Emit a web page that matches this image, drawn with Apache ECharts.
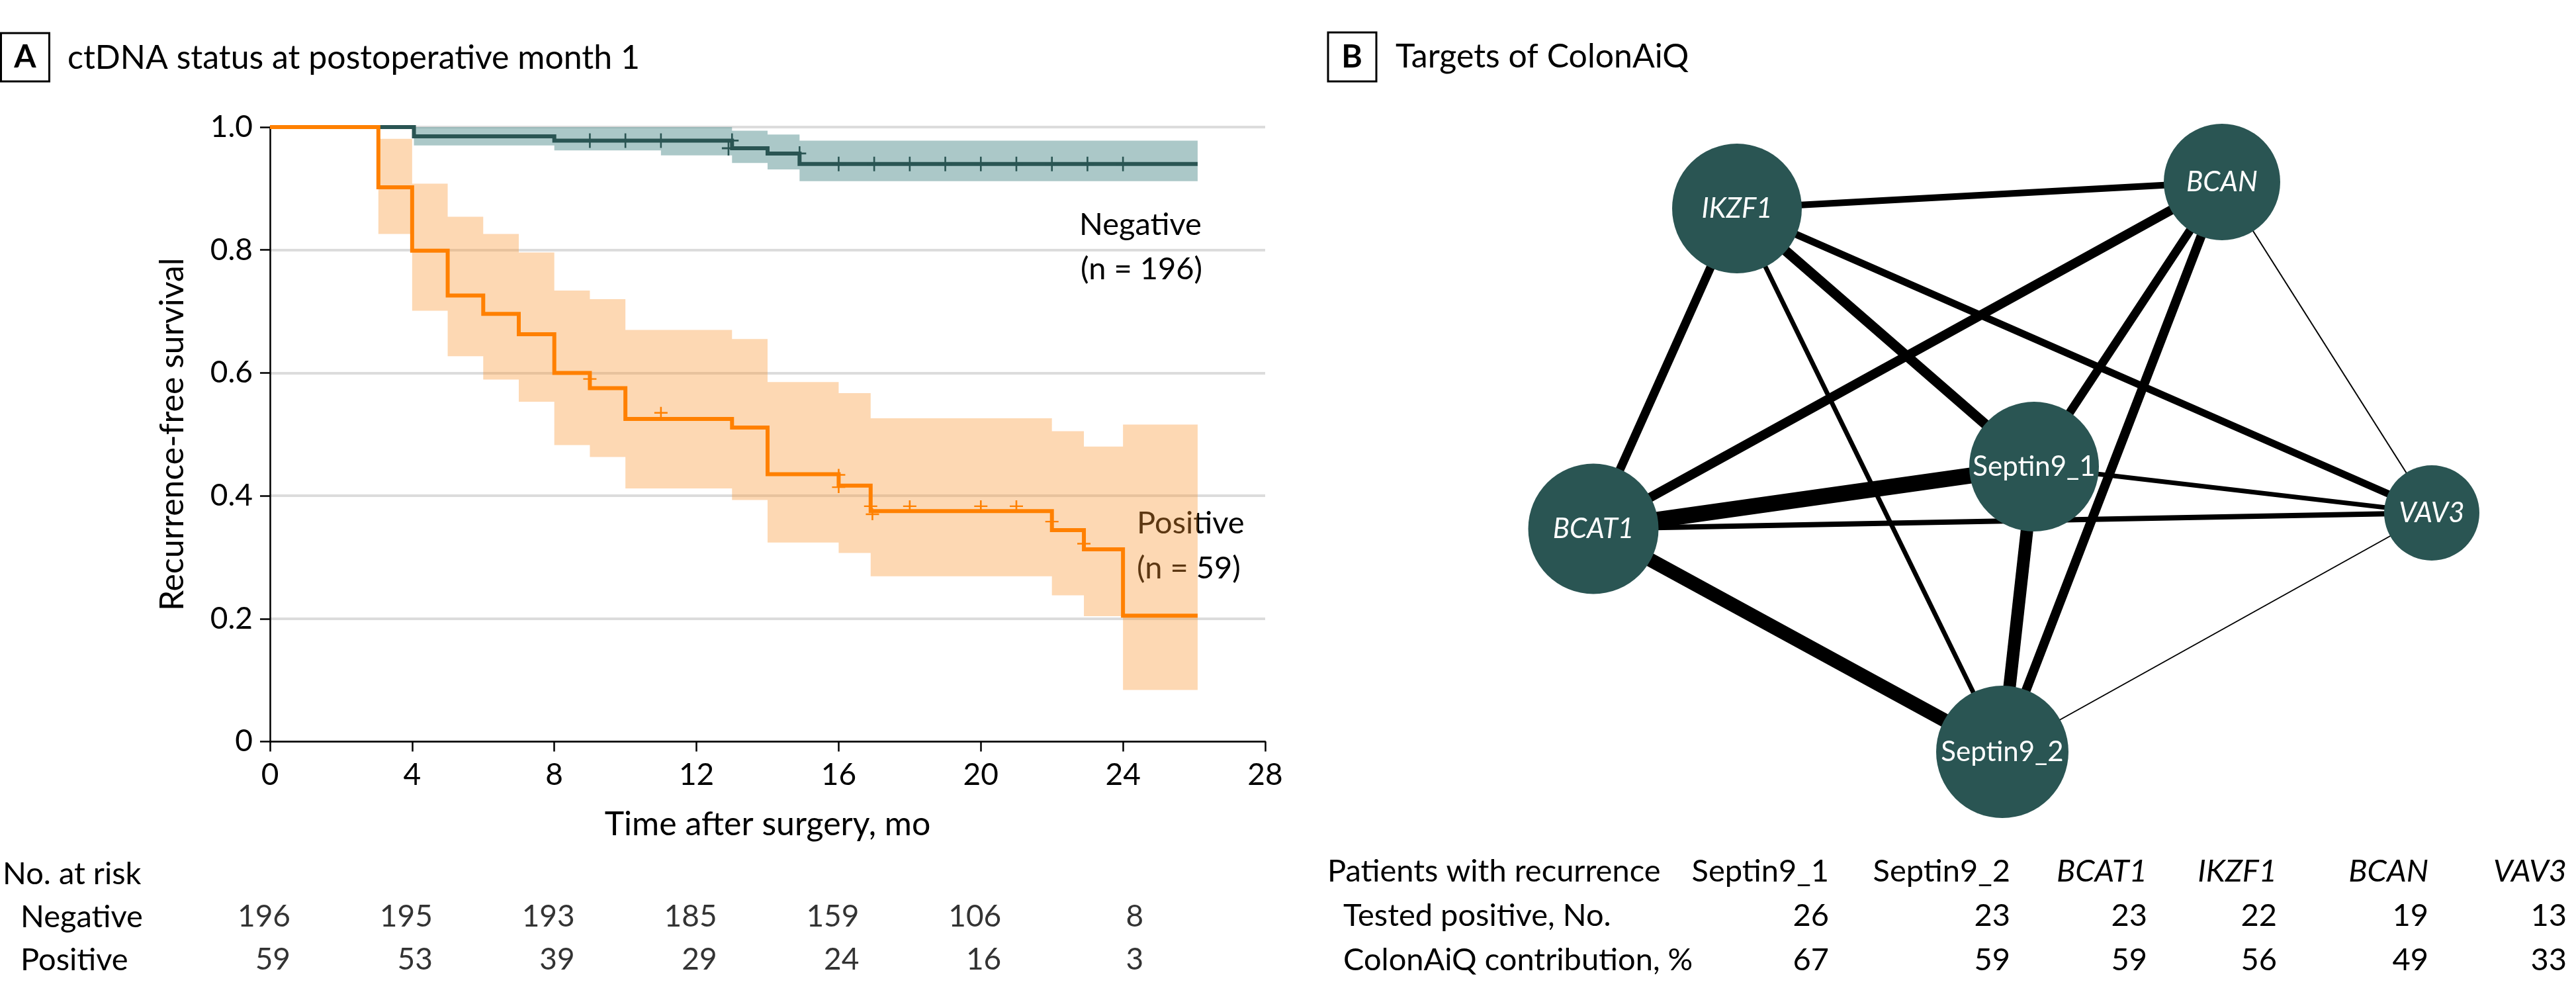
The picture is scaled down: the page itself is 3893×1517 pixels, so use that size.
<!DOCTYPE html>
<html><head><meta charset="utf-8">
<script src="https://cdn.jsdelivr.net/npm/echarts@6/dist/echarts.min.js"></script>
<style>html,body{margin:0;padding:0;background:#fff;}#c{width:3893px;height:1517px;}</style>
</head><body><div id="c"></div>
<script>
// ================= DATA =================
// Panel A: Kaplan-Meier recurrence-free survival
const xTicks = [0, 4, 8, 12, 16, 20, 24, 28];
const yTicks = [0, 0.2, 0.4, 0.6, 0.8, 1.0];

const negTimes = [0, 4.05, 8, 13, 14, 14.9, 26.1];
const negSurv  = [1, 0.985, 0.978, 0.9655, 0.957, 0.940, 0.940];
const negBandTimes = [4.05, 8, 11, 13, 14, 14.9, 26.1];
const negBandLower = [0.970, 0.962, 0.954, 0.9415, 0.931, 0.912, 0.912];
const negBandUpper = [1.0, 1.0, 1.0, 0.994, 0.988, 0.978, 0.978];
const negCensorTimes = [9, 10, 11, 12.9, 13, 14.9, 16, 17, 18, 19, 20, 21, 22, 23, 24];
const negCensorSurv  = [0.978, 0.978, 0.978, 0.9655, 0.978, 0.957, 0.94, 0.94, 0.94, 0.94, 0.94, 0.94, 0.94, 0.94, 0.94];

const posTimes = [0, 3.05, 4, 5, 6, 7, 8, 9, 10, 13, 14, 16, 16.9, 22, 22.9, 24, 26.1];
const posSurv  = [1, 0.902, 0.799, 0.726, 0.696, 0.663, 0.600, 0.575, 0.525, 0.511, 0.435, 0.4165, 0.375, 0.344, 0.313, 0.205, 0.205];
const posBandTimes = [3.05, 4, 5, 6, 7, 8, 9, 10, 13, 14, 16, 16.9, 22, 22.9, 24, 26.1];
const posBandLower = [0.826, 0.701, 0.627, 0.589, 0.553, 0.4825, 0.463, 0.412, 0.393, 0.324, 0.307, 0.269, 0.238, 0.204, 0.084, 0.084];
const posBandUpper = [0.981, 0.908, 0.854, 0.826, 0.796, 0.734, 0.720, 0.670, 0.655, 0.585, 0.567, 0.526, 0.505, 0.480, 0.516, 0.516];
const posCensorTimes = [9, 11, 16, 16, 16.9, 16.95, 18, 20, 21, 22, 22.9];
const posCensorSurv  = [0.590, 0.535, 0.434, 0.414, 0.383, 0.370, 0.383, 0.383, 0.383, 0.358, 0.322];

const riskTimes = [0, 4, 8, 12, 16, 20, 24];
const riskNegative = [196, 195, 193, 185, 159, 106, 8];
const riskPositive = [59, 53, 39, 29, 24, 16, 3];
const groupNames = ['Negative', 'Positive'];
const groupN = [196, 59];

// Panel B: ColonAiQ targets network
const markers = ['Septin9_1', 'Septin9_2', 'BCAT1', 'IKZF1', 'BCAN', 'VAV3'];
const testedPositive = [26, 23, 23, 22, 19, 13];
const contribution = [67, 59, 59, 56, 49, 33];
const linkSource = ['BCAT1', 'BCAT1', 'Septin9_1', 'BCAN', 'BCAN', 'BCAN', 'IKZF1', 'IKZF1', 'IKZF1', 'IKZF1', 'BCAT1', 'Septin9_1', 'IKZF1', 'BCAN', 'Septin9_2'];
const linkTarget = ['Septin9_1', 'Septin9_2', 'Septin9_2', 'BCAT1', 'Septin9_1', 'Septin9_2', 'Septin9_1', 'BCAT1', 'BCAN', 'VAV3', 'VAV3', 'VAV3', 'Septin9_2', 'VAV3', 'VAV3'];
const linkStrength = [24, 21, 19, 14, 13, 14, 15, 13, 10, 11, 8, 7, 7, 2, 2];

// ================= LAYOUT / STYLE =================
const FONT = 'Lato';
const TEAL = '#2a5553';
const ORANGE = '#ff8000';
const TEAL_BAND = 'rgba(88,146,146,0.5)';
const ORANGE_BAND = 'rgba(250,150,50,0.37)';
const BASE_K = 0.34; // baseline -> middle offset factor
const nodeXY = {IKZF1: [2625, 315], BCAN: [3358, 275], Septin9_1: [3074, 705], BCAT1: [2408, 799], VAV3: [3675, 775], Septin9_2: [3026, 1136]};
const nodeDiam = {Septin9_1: 196, Septin9_2: 200, BCAT1: 197, IKZF1: 196, BCAN: 176, VAV3: 144};
const tableRight = [2764, 3038, 3245, 3441, 3670, 3879];
const isGene = m => !/^Septin9/.test(m);

function txt(x, baseline, s, size, opt) {
  opt = opt || {};
  const align = opt.align || 'left';
  const font = (opt.italic ? 'italic ' : '') + (opt.bold ? 'bold ' : '') + size + 'px ' + FONT;
  return {type: 'text', x: x, y: baseline - BASE_K * size, silent: true,
    style: {text: String(s), font: font, fill: '#000', align: align, textAlign: align, verticalAlign: 'middle', textVerticalAlign: 'middle'}};
}
const zip = (a, b) => a.map((v, i) => [v, b[i]]);

// stepped confidence band drawn as one polygon through the axis scales
function bandSeries(times, lo, hi, color) {
  return {type: 'custom', xAxisIndex: 0, yAxisIndex: 0, silent: true, z: 1, clip: true,
    data: times.map((t, i) => [t, lo[i], hi[i]]),
    encode: {x: 0, y: [1, 2]},
    renderItem: (params, api) => {
      if (params.dataIndex !== 0) return null;
      const pts = [];
      for (let i = 0; i < times.length - 1; i++) {
        pts.push(api.coord([times[i], hi[i]]));
        pts.push(api.coord([times[i + 1], hi[i]]));
      }
      for (let i = times.length - 2; i >= 0; i--) {
        pts.push(api.coord([times[i + 1], lo[i]]));
        pts.push(api.coord([times[i], lo[i]]));
      }
      return {type: 'polygon', shape: {points: pts}, style: {fill: color}};
    }};
}

const graphics = [];
graphics.push({type: 'rect', shape: {x: 1.5, y: 50, width: 73, height: 73}, style: {fill: 'transparent', stroke: '#000', lineWidth: 3}, silent: true});
graphics.push(txt(38, 103, 'A', 48, {align: 'center', bold: true}));
graphics.push(txt(102, 105, 'ctDNA status at postoperative month 1', 50));
graphics.push({type: 'rect', shape: {x: 2007, y: 49, width: 73, height: 74}, style: {fill: 'transparent', stroke: '#000', lineWidth: 3}, silent: true});
graphics.push(txt(2043, 103, 'B', 48, {align: 'center', bold: true}));
graphics.push(txt(2109, 103, 'Targets of ColonAiQ', 50));
graphics.push(txt(1631, 356, groupNames[0], 47));
graphics.push(txt(1633, 423, '(n = ' + groupN[0] + ')', 47));
graphics.push(txt(1718, 807, groupNames[1], 47));
graphics.push(txt(1718, 875, '(n = ' + groupN[1] + ')', 47));
graphics.push(txt(4, 1337, 'No. at risk', 47));
graphics.push(txt(2006, 1333, 'Patients with recurrence', 47));
graphics.push(txt(2030, 1400, 'Tested positive, No.', 47));
graphics.push(txt(2030, 1467, 'ColonAiQ contribution, %', 47));
markers.forEach((m, i) => {
  graphics.push(txt(tableRight[i], 1333, m, 47, {align: 'right', italic: isGene(m)}));
  graphics.push(txt(tableRight[i], 1400, testedPositive[i], 47, {align: 'right'}));
  graphics.push(txt(tableRight[i], 1467, contribution[i], 47, {align: 'right'}));
});

const plusPath = 'path://M-1.3,-10 L1.3,-10 L1.3,-1.3 L10,-1.3 L10,1.3 L1.3,1.3 L1.3,10 L-1.3,10 L-1.3,1.3 L-10,1.3 L-10,-1.3 L-1.3,-1.3 Z';

const chart = echarts.init(document.getElementById('c'), null, {renderer: 'canvas', width: 3893, height: 1517});
const option = {
  animation: false,
  backgroundColor: '#fff',
  textStyle: {fontFamily: FONT, color: '#000'},
  grid: [
    {left: 408, top: 192, width: 1504, height: 928.5, outerBoundsMode: 'none', containLabel: false},
    {left: 408, top: 1353, width: 1504, height: 130, outerBoundsMode: 'none', containLabel: false},
    {left: 0, top: 0, width: 3893, height: 1517, outerBoundsMode: 'none', containLabel: false}
  ],
  xAxis: [
    {gridIndex: 0, type: 'value', min: xTicks[0], max: xTicks[xTicks.length - 1], interval: 4,
      axisLine: {show: true, onZero: false, lineStyle: {color: '#000', width: 2.5}},
      axisTick: {show: true, length: 15, lineStyle: {color: '#000', width: 2.5}},
      axisLabel: {fontSize: 46, color: '#000', margin: 28, fontFamily: FONT},
      splitLine: {show: false},
      name: 'Time after surgery, mo', nameLocation: 'middle', nameGap: 100,
      nameTextStyle: {fontSize: 50, color: '#000', fontFamily: FONT}},
    {gridIndex: 1, type: 'value', min: 0, max: 28, show: false},
    {gridIndex: 2, type: 'value', min: 0, max: 3893, show: false}
  ],
  yAxis: [
    {gridIndex: 0, type: 'value', min: yTicks[0], max: yTicks[yTicks.length - 1], interval: 0.2,
      axisLine: {show: true, lineStyle: {color: '#000', width: 2.5}},
      axisTick: {show: true, length: 15, lineStyle: {color: '#000', width: 2.5}},
      axisLabel: {fontSize: 46, color: '#000', margin: 26, fontFamily: FONT,
        formatter: v => (v === 0 ? '0' : v.toFixed(1))},
      splitLine: {show: true, lineStyle: {color: '#dcdcdc', width: 4}},
      name: 'Recurrence-free survival', nameLocation: 'middle', nameGap: 122,
      nameTextStyle: {fontSize: 50, color: '#000', fontFamily: FONT}},
    {gridIndex: 1, type: 'category', data: groupNames, inverse: true,
      axisLine: {show: false}, axisTick: {show: false}, splitLine: {show: false},
      axisLabel: {align: 'left', margin: 377, fontSize: 47, color: '#000', fontFamily: FONT}},
    {gridIndex: 2, type: 'value', min: 0, max: 1517, inverse: true, show: false}
  ],
  series: [
    bandSeries(negBandTimes, negBandLower, negBandUpper, TEAL_BAND),
    bandSeries(posBandTimes, posBandLower, posBandUpper, ORANGE_BAND),
    {type: 'line', name: 'Negative', xAxisIndex: 0, yAxisIndex: 0, step: 'end', symbol: 'none', silent: true,
      lineStyle: {color: TEAL, width: 6, join: 'miter', cap: 'butt'}, data: zip(negTimes, negSurv), z: 3},
    {type: 'line', name: 'Positive', xAxisIndex: 0, yAxisIndex: 0, step: 'end', symbol: 'none', silent: true,
      lineStyle: {color: ORANGE, width: 6, join: 'miter', cap: 'butt'}, data: zip(posTimes, posSurv), z: 4},
    {type: 'scatter', xAxisIndex: 0, yAxisIndex: 0, symbol: plusPath, symbolSize: [20, 22], silent: true,
      itemStyle: {color: TEAL, opacity: 1}, data: zip(negCensorTimes, negCensorSurv), z: 5},
    {type: 'scatter', xAxisIndex: 0, yAxisIndex: 0, symbol: plusPath, symbolSize: [20, 18], silent: true,
      itemStyle: {color: ORANGE, opacity: 1}, data: zip(posCensorTimes, posCensorSurv), z: 5},
    {type: 'scatter', xAxisIndex: 1, yAxisIndex: 1, symbolSize: 0, silent: true,
      data: riskTimes.map((t, i) => [t, groupNames[0], riskNegative[i]]),
      label: {show: true, position: 'inside', align: 'right', verticalAlign: 'middle', offset: [31, 0],
        formatter: p => String(p.value[2]), fontSize: 46, color: '#000', fontFamily: FONT}},
    {type: 'scatter', xAxisIndex: 1, yAxisIndex: 1, symbolSize: 0, silent: true,
      data: riskTimes.map((t, i) => [t, groupNames[1], riskPositive[i]]),
      label: {show: true, position: 'inside', align: 'right', verticalAlign: 'middle', offset: [31, 0],
        formatter: p => String(p.value[2]), fontSize: 46, color: '#000', fontFamily: FONT}},
    {type: 'graph', coordinateSystem: 'cartesian2d', xAxisIndex: 2, yAxisIndex: 2, layout: 'none', silent: true,
      itemStyle: {color: TEAL, opacity: 1},
      label: {show: true, position: 'inside', color: '#fff', fontSize: 42, fontFamily: FONT},
      lineStyle: {color: '#000', opacity: 1, curveness: 0},
      emphasis: {disabled: true},
      data: markers.map((m, i) => ({name: m, value: nodeXY[m].concat([testedPositive[i]]), symbolSize: nodeDiam[m],
        label: {fontStyle: isGene(m) ? 'italic' : 'normal'}})),
      links: linkSource.map((s, i) => ({source: s, target: linkTarget[i], lineStyle: {width: linkStrength[i]}})),
      z: 2}
  ],
  graphic: graphics
};
chart.setOption(option);
</script></body></html>
